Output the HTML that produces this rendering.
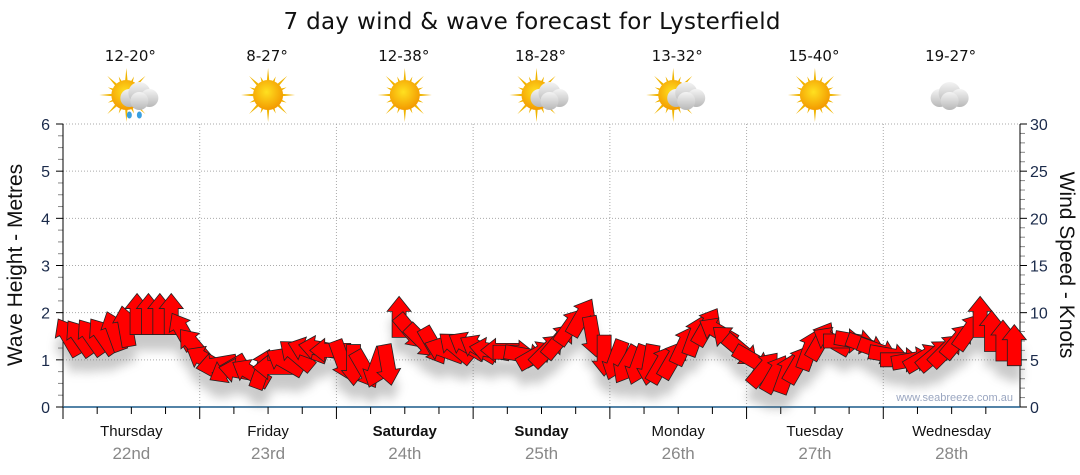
<!DOCTYPE html>
<html><head><meta charset="utf-8"><style>
body{margin:0;background:#fff;width:1080px;height:475px;overflow:hidden}
svg{display:block}
</style></head><body>
<svg id="c" width="1080" height="475" xmlns="http://www.w3.org/2000/svg">
<defs>
<filter id="sh" x="-50%" y="-50%" width="200%" height="200%"><feGaussianBlur stdDeviation="5"/></filter>
<radialGradient id="sun" cx="45%" cy="40%" r="60%"><stop offset="0" stop-color="#ffe020"/><stop offset="1" stop-color="#f39a00"/></radialGradient>
<linearGradient id="cl" x1="0" y1="0" x2="0" y2="1"><stop offset="0" stop-color="#f4f4f4"/><stop offset="1" stop-color="#b8b8b8"/></linearGradient>
</defs>
<text x="532" y="29" text-anchor="middle" font-family="DejaVu Sans, sans-serif" font-size="23" textLength="497" fill="#111">7 day wind &amp; wave forecast for Lysterfield</text>
<g id="grid"></g>
<g id="axes"></g>
<g id="shadow" filter="url(#sh)" opacity="0.35"></g>
<g id="arrows"></g>
<g id="top"></g>
<text x="1013" y="401" text-anchor="end" font-family="Liberation Sans, sans-serif" font-size="11" fill="#9aa6c0">www.seabreeze.com.au</text>
<text transform="translate(22,265) rotate(-90)" text-anchor="middle" font-family="Liberation Sans, sans-serif" font-size="21" fill="#111">Wave Height - Metres</text>
<text transform="translate(1060,265) rotate(90)" text-anchor="middle" font-family="Liberation Sans, sans-serif" font-size="21" fill="#111">Wind Speed - Knots</text>
</svg>
<script>
const days=["Thursday","Friday","Saturday","Sunday","Monday","Tuesday","Wednesday"];
const dates=["22nd","23rd","24th","25th","26th","27th","28th"];
const temps=["12-20°","8-27°","12-38°","18-28°","13-32°","15-40°","19-27°"];
const icons=["sun-cloud-rain","sun","sun","sun-cloud","sun-cloud","sun","cloud"];
const leftTicks=[0,1,2,3,4,5,6];
const rightTicks=[0,5,10,15,20,25,30];
const windSpeed=[
7.4,7.3,7.4,7.5,8,8.5,9.8,9.8,9.8,9.8,8,6.5,
5,4.5,4,3.8,3.6,4,4.2,4.8,5.5,6,6.2,6,
5,4.5,4,4.2,4.5,9.5,8,7,6.5,6,6.3,6.5,
6.2,6,6,5.8,5.5,5.5,6,7,8.5,9.5,7.5,5.5,
5,4.5,4.5,4.5,4.5,5,6.5,7.5,8.5,8,7,6,
5,4,3.5,3.5,4.5,6,7,7,7,7,6.5,6,
5.5,5,5,5.2,5.5,6,7,8,9.5,8,7,6.5];
const windDir=[
-30,-35,-35,-35,-20,-10,0,0,0,0,-30,-40,
-60,-100,-120,-80,-60,20,-90,-60,-50,-70,-80,-90,
160,180,150,200,170,0,140,135,150,-70,-50,-60,
-60,-80,-90,90,100,60,45,40,35,30,170,180,
200,210,200,190,30,30,25,20,30,-60,-50,130,
120,40,30,20,30,20,30,-60,90,100,110,110,
100,90,80,60,50,45,40,35,0,0,0,0];
const NS="http://www.w3.org/2000/svg";
const X0=63,X1=1020,Y0=407,Y1=124;
const xT=h=>X0+h/168*(X1-X0);
const yM=m=>Y0-m/6*(Y0-Y1);
const yK=k=>Y0-k/30*(Y0-Y1);
function mk(tag,attrs,parent){const e=document.createElementNS(NS,tag);for(const k in attrs)e.setAttribute(k,attrs[k]);parent.appendChild(e);return e;}
const grid=document.getElementById('grid'),axes=document.getElementById('axes'),top_=document.getElementById('top');
leftTicks.forEach(v=>{
 if(v>0){const l=mk('line',{x1:X0,x2:X1,y1:yM(v),y2:yM(v),stroke:'#aaa','stroke-dasharray':'1,2'},grid);
 
 }
 const t=mk('text',{x:50,y:yM(v)+6,'text-anchor':'end','font-family':'Liberation Sans, sans-serif','font-size':16,fill:'#1a2a4a'},axes);t.textContent=v;
 
 
});
for(let i=0;i<=24;i++){const y=Y0-i*(Y0-Y1)/24;mk('line',{x1:X0-(i%4==0?7:5),x2:X0,y1:y,y2:y,stroke:i%4==0?'#000':'#888'},axes);}
rightTicks.forEach(v=>{
 const t=mk('text',{x:1030,y:yK(v)+6,'font-family':'Liberation Sans, sans-serif','font-size':16,fill:'#1a2a4a'},axes);t.textContent=v;
 
 
});
for(let i=0;i<=30;i++){const y=Y0-i*(Y0-Y1)/30;mk('line',{x1:X1,x2:X1+(i%5==0?7:5),y1:y,y2:y,stroke:i%5==0?'#000':'#888'},axes);}
mk('line',{x1:X0,x2:X0,y1:Y1,y2:418,stroke:'#000'},axes);
mk('line',{x1:X1,x2:X1,y1:Y1,y2:Y0,stroke:'#000'},axes);
mk('line',{x1:X0,x2:X1,y1:Y0,y2:Y0,stroke:'#1a5a8a','stroke-width':1.5},axes);
for(let d=0;d<7;d++){
 if(d>0){const g=mk('line',{x1:xT(d*24),x2:xT(d*24),y1:Y1,y2:Y0,stroke:'#aaa','stroke-dasharray':'1,2'},grid);
 
 }
 for(let h=0;h<4;h++){const x=xT(d*24+h*6);mk('line',{x1:x,x2:x,y1:Y0,y2:Y0+(h==0?12:7),stroke:'#000'},axes);}
 const cx=xT(d*24+12);
 const dn=mk('text',{x:cx,y:436,'text-anchor':'middle','font-family':'Liberation Sans, sans-serif','font-size':15,'font-weight':(d==2||d==3)?'bold':'normal',fill:'#111'},axes);dn.textContent=days[d];
 
 
 const dt=mk('text',{x:cx,y:459,'text-anchor':'middle','font-family':'Liberation Sans, sans-serif','font-size':17,fill:'#888'},axes);dt.textContent=dates[d];
 
 
 const tt=mk('text',{x:cx-1,y:61,'text-anchor':'middle','font-family':'DejaVu Sans, sans-serif','font-size':15,fill:'#111'},top_);tt.textContent=temps[d];
 
 
 const g=mk('g',{transform:`translate(${cx},95)`},top_);
 
 
 const ic=icons[d];
 if(ic!='cloud'){
  const sx=ic=='sun'?0:-5;
  for(let r=0;r<16;r++){const a=r*Math.PI/8,L=r%2?20:27;mk('polygon',{points:`${sx+Math.cos(a-0.12)*12},${Math.sin(a-0.12)*12} ${sx+Math.cos(a)*L},${Math.sin(a)*L} ${sx+Math.cos(a+0.12)*12},${Math.sin(a+0.12)*12}`,fill:'#f0b400'},g);}
  mk('circle',{cx:sx,cy:0,r:15,fill:'url(#sun)'},g);
 }
 if(ic!='sun'){
  const ox=ic=='cloud'?-4:6;
  [[ox-8,3,9],[ox+2,-2,11],[ox+12,3,9],[ox+2,6,9]].forEach(c=>mk('circle',{cx:c[0],cy:c[1],r:c[2],fill:'url(#cl)'},g));
  if(ic=='sun-cloud-rain'){mk('ellipse',{cx:-2,cy:20,rx:2.5,ry:3.5,fill:'#3aa0e0'},g);mk('ellipse',{cx:8,cy:20,rx:2.5,ry:3.5,fill:'#3aa0e0'},g);}
 }
}
const arrows=document.getElementById('arrows'),shadow=document.getElementById('shadow');
const shape="0,-21 12,-6 7,-6 7,20 -7,20 -7,-6 -12,-6";
windSpeed.forEach((s,i)=>{
 const x=xT(i*2+1),y=yK(s);
 mk('polygon',{points:shape,fill:'#666',transform:`translate(${x},${y+16}) rotate(${windDir[i]})`},shadow);
 const p=mk('polygon',{points:shape,fill:'#f00',stroke:'#222','stroke-width':0.8,transform:`translate(${x},${y}) rotate(${windDir[i]})`},arrows);
 
 
});
</script>
</body></html>
